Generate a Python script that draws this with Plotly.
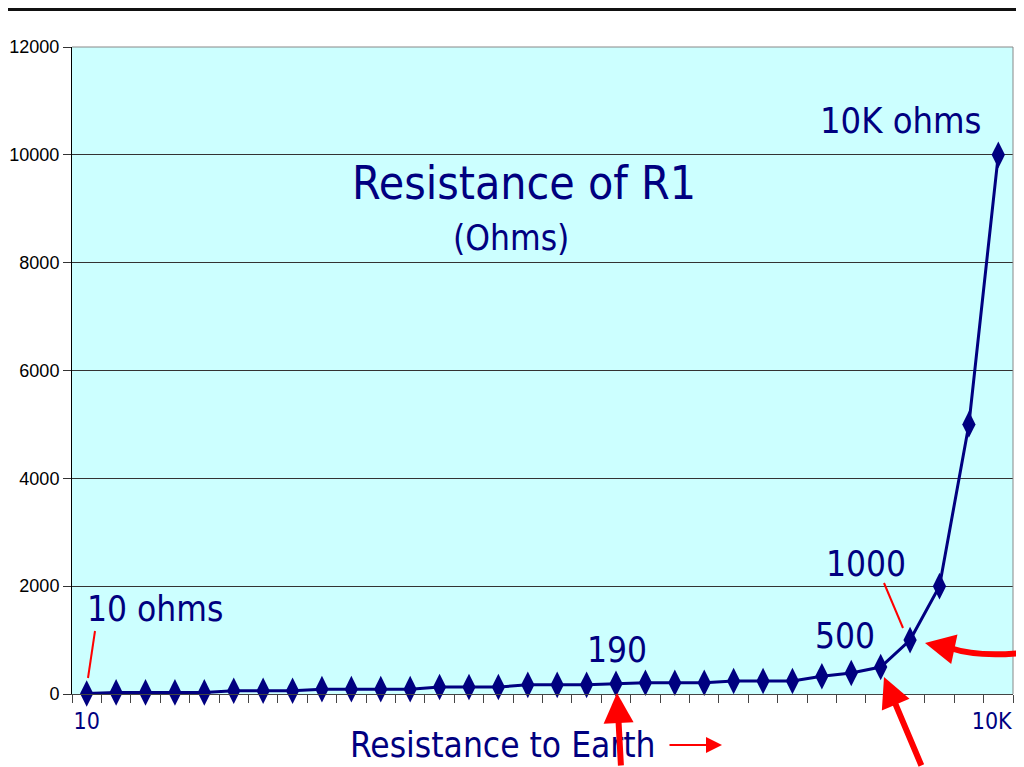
import plotly.graph_objects as go

# ---- data ----
x_index = list(range(32))
r1_ohms = [10, 30, 30, 30, 30, 60, 60, 60, 90, 90, 90, 90, 130, 130, 130,
           170, 170, 170, 190, 210, 210, 210, 240, 240, 240, 330, 390, 500,
           1000, 2000, 5000, 10000]
x_tick_vals = [0, 31]
x_tick_text = ["10", "10K\u00a0\u00a0"]
y_tick_vals = [0, 2000, 4000, 6000, 8000, 10000, 12000]

NAVY = "#000080"
RED = "#FF0000"
TXT_FONT = "DejaVu Sans Condensed, DejaVu Sans, Verdana, sans-serif"

# plot area in page pixels: left 72, right 1013, top 47, bottom 694
def px(x):
    return (x - 72) / 941.0

def py(y):
    return (694 - y) / 647.0

fig = go.Figure()
fig.add_trace(go.Scatter(
    x=x_index, y=r1_ohms, mode="lines+markers",
    line=dict(color=NAVY, width=3),
    marker=dict(symbol="diamond-tall", size=19, color=NAVY),
    cliponaxis=False, showlegend=False,
))

# page body has an 8px margin, so the figure is 8px smaller and offset
fig.update_layout(
    width=1016, height=759,
    margin=dict(l=64, r=11, t=39, b=73),
    paper_bgcolor="white",
    plot_bgcolor="#CCFFFF",
    xaxis=dict(
        range=[-0.5, 31.5], tickmode="array", tickvals=x_tick_vals,
        ticktext=x_tick_text, ticks="", showgrid=False, zeroline=False,
        showline=True, linecolor="#444", linewidth=1, mirror=False,
        tickfont=dict(family=TXT_FONT, size=23, color=NAVY),
        ticklabelstandoff=6, automargin=False, ticklabeloverflow="allow",
        minor=dict(ticks="outside", ticklen=8, tickcolor="#444", tickwidth=1,
                   tickmode="linear", tick0=-0.5, dtick=1, showgrid=False),
    ),
    yaxis=dict(
        range=[0, 12000], tickmode="array", tickvals=y_tick_vals,
        tickformat="d", automargin=False, ticklabeloverflow="allow",
        ticks="outside", ticklen=8, tickcolor="#333",
        showgrid=True, gridcolor="#333", gridwidth=1, zeroline=False,
        showline=True, linecolor="black", linewidth=1,
        tickfont=dict(family="Liberation Sans Narrow, Arial Narrow, Liberation Sans, Arial, sans-serif",
                      size=18, color="black"),
    ),
)

# frame on top/right
fig.add_shape(type="line", xref="paper", yref="paper", x0=0, x1=1, y0=1, y1=1,
              line=dict(color="#888", width=1))
fig.add_shape(type="line", xref="paper", yref="paper", x0=1, x1=1, y0=0, y1=1,
              line=dict(color="#888", width=1))
# top black bar of the page
fig.add_shape(type="line", xref="paper", yref="paper", x0=px(0), x1=px(1030),
              y0=py(9.5), y1=py(9.5), line=dict(color="#111", width=3))

def label(text, x, y, size):
    fig.add_annotation(text=text, xref="paper", yref="paper", x=px(x), y=py(y),
                       xanchor="center", yanchor="middle", showarrow=False,
                       font=dict(family=TXT_FONT, size=size, color=NAVY))

label("Resistance of R1", 524, 183, 46)
label("(Ohms)", 511, 238, 35)
label("10K ohms", 901, 120, 36)
label("10 ohms", 155, 609, 35)
label("190", 617, 650, 35)
label("1000", 866, 564, 35)
label("500", 845, 636, 35)
label("Resistance to Earth", 503, 745, 35)

# thin red leader lines
fig.add_shape(type="line", xref="paper", yref="paper", x0=px(88), y0=py(678),
              x1=px(95), y1=py(631), line=dict(color=RED, width=2))
fig.add_shape(type="line", xref="paper", yref="paper", x0=px(884), y0=py(583),
              x1=px(903), y1=py(628), line=dict(color=RED, width=2))

# small arrow after axis title
fig.add_annotation(text="", xref="paper", yref="paper", x=px(722), y=py(745),
                   ax=-54, ay=0, showarrow=True, arrowhead=2, arrowsize=1.6,
                   arrowwidth=2, arrowcolor=RED)

# thick red arrows
fig.add_annotation(text="", xref="paper", yref="paper", x=px(617), y=py(693),
                   ax=4, ay=80, showarrow=True, arrowhead=2, arrowsize=1.0,
                   arrowwidth=6, arrowcolor=RED)
fig.add_annotation(text="", xref="paper", yref="paper", x=px(884), y=py(677),
                   ax=38, ay=100, showarrow=True, arrowhead=2, arrowsize=1.0,
                   arrowwidth=6, arrowcolor=RED)
fig.add_annotation(text="", xref="paper", yref="paper", x=px(925), y=py(643),
                   ax=28, ay=6, showarrow=True, arrowhead=2, arrowsize=1.0,
                   arrowwidth=6, arrowcolor=RED)
fig.add_shape(type="path", xref="paper", yref="paper",
              path=f"M {px(950)},{py(648)} Q {px(980)},{py(658)} {px(1030)},{py(652)}",
              line=dict(color=RED, width=6))

fig.write_html("out.html")
